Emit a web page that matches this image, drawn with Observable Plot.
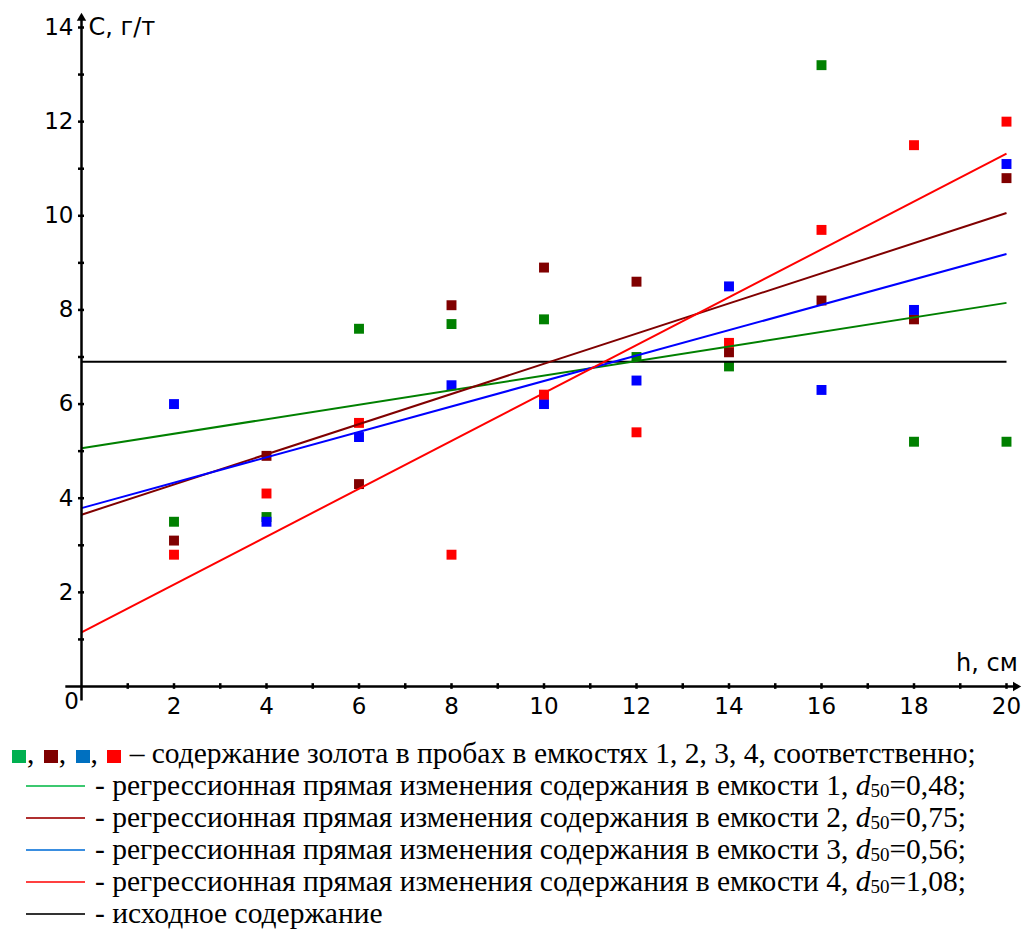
<!DOCTYPE html>
<html>
<head>
<meta charset="utf-8">
<script src="https://cdn.jsdelivr.net/npm/d3@7"></script>
<script src="https://cdn.jsdelivr.net/npm/@observablehq/plot@0.6"></script>
<style>
  html, body { margin: 0; padding: 0; background: white; }
  #legend { font-family: "Liberation Serif", "Times New Roman", serif; font-size: 29.5px; line-height: 32px; color: #000; white-space: nowrap; }
  .row { height: 32px; }
  .sq { display: inline-block; width: 14px; height: 13px; vertical-align: 0px; margin-right: 1px; }
  .sq.next { margin-left: 2px; }
  .ln { display: inline-block; width: 59px; height: 2px; vertical-align: 8px; margin-left: 26px; margin-right: 10px; }
  sub { font-size: 19px; vertical-align: -2px; line-height: 0; }
</style>
</head>
<body>
<div id="chart"></div>
<div id="legend"></div>
<script>
// Depth h, cm
const h = [2, 4, 6, 8, 10, 12, 14, 16, 18, 20];
// Gold content C, g/t, per container
const c1 = [3.5, 3.6, 7.6, 7.7, 7.8, 7.0, 6.8, 13.2, 5.2, 5.2];
const c2 = [3.1, 4.9, 4.3, 8.1, 8.9, 8.6, 7.1, 8.2, 7.8, 10.8];
const c3 = [6.0, 3.5, 5.3, 6.4, 6.0, 6.5, 8.5, 6.3, 8.0, 11.1];
const c4 = [2.8, 4.1, 5.6, 2.8, 6.2, 5.4, 7.3, 9.7, 11.5, 12.0];
const seriesNames = ["1", "2", "3", "4"];
const pointColors = ["#008000", "#800000", "#0000ff", "#ff0000"];
// Regression lines: value at h = 0 and at h = 20
const regH = [0, 20];
const regStart = [5.06, 3.65, 3.79, 1.15];
const regEnd = [8.15, 10.06, 9.19, 11.32];
const d50 = ["0,48", "0,75", "0,56", "1,08"];
// Initial content
const initialC = 6.9;
// Axis ticks and labels
const xMinorTicks = d3.range(1, 21);
const yMinorTicks = d3.range(1, 15);
const xTickLabels = [2, 4, 6, 8, 10, 12, 14, 16, 18, 20];
const yTickLabels = [2, 4, 6, 8, 10, 12, 14];
const xAxisExtent = [-0.35, 20.2];
const yAxisExtent = [-0.3, 14.2];

const allSeries = [c1, c2, c3, c4];
const points = allSeries.flatMap((s, i) => s.map((c, j) => ({h: h[j], c, color: pointColors[i]})));
const regs = seriesNames.map((n, i) => ({x1: regH[0], y1: regStart[i], x2: regH[1], y2: regEnd[i], color: pointColors[i]}));

const chart = Plot.plot({
  width: 1022,
  height: 737,
  marginLeft: 81,
  marginRight: 16,
  marginTop: 27,
  marginBottom: 51,
  x: {domain: [0, 20], axis: null},
  y: {domain: [0, 14], axis: null},
  color: {type: "identity"},
  style: {fontFamily: "'DejaVu Sans', Arial, sans-serif", fontSize: "23px", color: "black", background: "white", overflow: "visible"},
  marks: [
    Plot.dot(points, {x: "h", y: "c", symbol: "square", r: 5.6, fill: "color", stroke: "none"}),
    Plot.link([initialC], {x1: regH[0], x2: regH[1], y1: d => d, y2: d => d, stroke: "black", strokeWidth: 2}),
    Plot.link(regs, {x1: "x1", y1: "y1", x2: "x2", y2: "y2", stroke: "color", strokeWidth: 2}),
    // axes
    Plot.link([0], {x1: xAxisExtent[0], x2: xAxisExtent[1], y1: 0, y2: 0, stroke: "black", strokeWidth: 2.5}),
    Plot.link([0], {x1: 0, x2: 0, y1: yAxisExtent[0], y2: yAxisExtent[1], stroke: "black", strokeWidth: 2.5}),
    Plot.dot([xAxisExtent[1]], {x: d => d, y: 0, symbol: "triangle2", r: 4.5, rotate: 90, fill: "black", stroke: "none"}),
    Plot.dot([yAxisExtent[1]], {x: 0, y: d => d, symbol: "triangle2", r: 4.5, rotate: 0, fill: "black", stroke: "none"}),
    Plot.ruleX(xMinorTicks, {x: d => d, y1: -0.06, y2: 0.06, stroke: "black", strokeWidth: 2.5}),
    Plot.ruleY(yMinorTicks, {y: d => d, x1: -0.065, x2: 0.065, stroke: "black", strokeWidth: 2.5}),
    Plot.text(xTickLabels, {x: d => d, y: 0, dy: 20, text: d => String(d), fill: "black"}),
    Plot.text(yTickLabels, {x: 0, y: d => d, dx: -8, textAnchor: "end", text: d => String(d), fill: "black"}),
    Plot.text(["0"], {x: 0, y: 0, dx: -10, dy: 15, text: d => d, fill: "black"}),
    Plot.text(["C, г/т"], {x: 0, y: 14, dx: 7, textAnchor: "start", text: d => d, fill: "black", fontSize: 24}),
    Plot.text(["h, см"], {x: xAxisExtent[1], y: 0, dx: 2, dy: -23, textAnchor: "end", text: d => d, fill: "black", fontSize: 24})
  ]
});
document.getElementById("chart").appendChild(chart);

// Legend
const legendSquareColors = ["#00b050", "#7f0000", "#0070c0", "#ff0000"];
const legendLineColors = ["#3cc870", "#b03030", "#3a8ee0", "#ff4040"];
const legend = document.getElementById("legend");
const r1 = document.createElement("div");
r1.className = "row";
r1.style.paddingLeft = "12px";
r1.innerHTML = legendSquareColors.map((c, i) => `<span class="sq${i ? " next" : ""}" style="background:${c}"></span>`).join(", ") +
  " – содержание золота в пробах в емкостях 1, 2, 3, 4, соответственно;";
legend.appendChild(r1);
seriesNames.forEach((n, i) => {
  const r = document.createElement("div");
  r.className = "row";
  r.innerHTML = `<span class="ln" style="background:${legendLineColors[i]}"></span>- регрессионная прямая изменения содержания в емкости ${n}, <i>d</i><sub>50</sub>=${d50[i]};`;
  legend.appendChild(r);
});
const r6 = document.createElement("div");
r6.className = "row";
r6.innerHTML = `<span class="ln" style="background:#333"></span>- исходное содержание`;
legend.appendChild(r6);
</script>
</body>
</html>
